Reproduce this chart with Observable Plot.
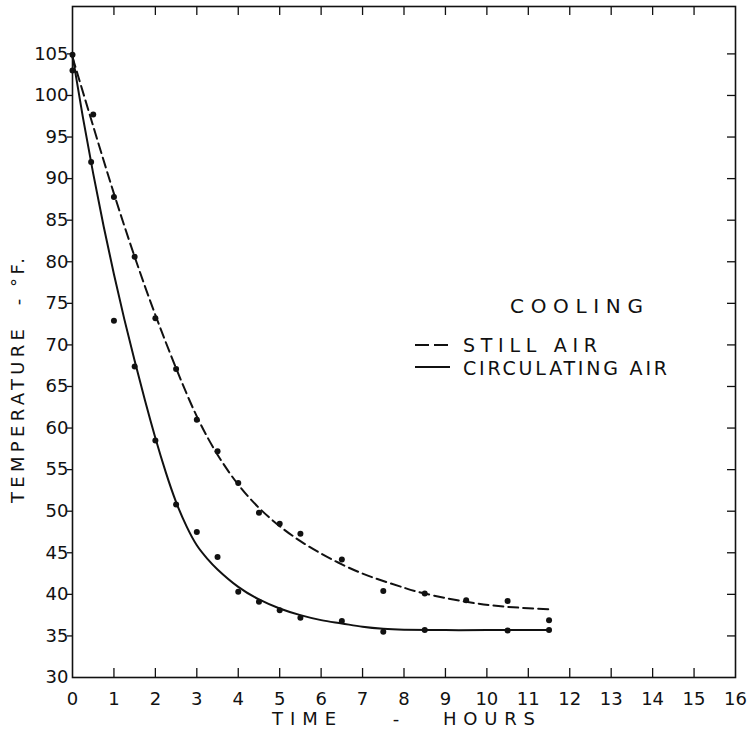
<!DOCTYPE html>
<html><head><meta charset="utf-8">
<script src="https://cdn.jsdelivr.net/npm/d3@7"></script>
<script src="https://cdn.jsdelivr.net/npm/@observablehq/plot@0.6"></script>
<style>body{margin:0;background:#fff} svg{display:block}</style>
</head><body><div id="chart"></div>
<script>
// Observed points
const stillHours = [0, 0.5, 1, 1.5, 2, 2.5, 3, 3.5, 4, 4.5, 5, 5.5, 6.5, 7.5, 8.5, 9.5, 10.5, 11.5];
const stillTemps = [103.0, 97.7, 87.8, 80.6, 73.2, 67.1, 61.0, 57.2, 53.4, 49.8, 48.5, 47.3, 44.2, 40.4, 40.1, 39.3, 39.2, 36.9];
const circHours = [0, 0.45, 1, 1.5, 2, 2.5, 3, 3.5, 4, 4.5, 5, 5.5, 6.5, 7.5, 8.5, 10.5, 11.5];
const circTemps = [104.9, 92.0, 72.9, 67.4, 58.5, 50.8, 47.5, 44.5, 40.3, 39.1, 38.1, 37.2, 36.8, 35.5, 35.7, 35.65, 35.7];
// Hand-drawn fitted curves
const stillCurveHours = [0, 0.5, 1, 1.5, 2, 2.5, 3, 3.5, 4, 4.5, 5, 5.5, 6, 6.5, 7, 7.5, 8, 8.5, 9.5, 10.5, 11.5];
const stillCurveTemps = [104.6, 96.3, 88.2, 80.6, 73.6, 67.2, 61.4, 56.8, 53.2, 50.4, 48.2, 46.4, 44.9, 43.6, 42.5, 41.6, 40.8, 40.1, 39.1, 38.5, 38.2];
const circCurveHours = [0, 0.25, 0.5, 0.75, 1, 1.25, 1.5, 1.75, 2, 2.25, 2.5, 2.75, 3, 3.25, 3.5, 4, 4.5, 5, 5.5, 6, 6.5, 7, 7.5, 8, 9, 10, 11.5];
const circCurveTemps = [104.8, 97.4, 90.6, 84.3, 78.5, 73.1, 68.1, 63.3, 58.8, 54.7, 51.1, 48.2, 45.9, 44.3, 43.0, 40.9, 39.4, 38.3, 37.5, 36.9, 36.5, 36.1, 35.85, 35.75, 35.7, 35.7, 35.7];
// Ticks
const xTickLabels = d3.range(0, 17);
const xInnerTicks = d3.range(1, 16);
const yTickLabels = d3.range(30, 110, 5);
const yInnerTicks = d3.range(35, 110, 5);

const stillPts = stillHours.map((h, i) => ({h, t: stillTemps[i]}));
const circPts = circHours.map((h, i) => ({h, t: circTemps[i]}));
const stillCurve = stillCurveHours.map((h, i) => ({h, t: stillCurveTemps[i]}));
const circCurve = circCurveHours.map((h, i) => ({h, t: circCurveTemps[i]}));

const W = 749, H = 731, mL = 72, mR = 14, mT = 6, mB = 54;
const iw = W - mL - mR, ih = H - mT - mB;
const ink = "#111";

const plot = Plot.plot({
  width: W, height: H,
  marginLeft: mL, marginRight: mR, marginTop: mT, marginBottom: mB,
  x: {domain: [0, 16]},
  y: {domain: [30, 110.7]},
  style: {fontFamily: "DejaVu Sans, sans-serif", fontSize: "18px", color: ink, background: "#fff"},
  marks: [
    Plot.axisX({ticks: xTickLabels, tickSize: 0, tickPadding: 15, label: null, fontSize: 18}),
    Plot.axisY({ticks: yTickLabels, tickSize: 0, tickPadding: 4, label: null, fontSize: 18}),
    Plot.tickX(xInnerTicks, {x: d => d, insetTop: ih - 9, stroke: ink, strokeWidth: 1.3}),
    Plot.tickX(xInnerTicks, {x: d => d, insetBottom: ih - 9, stroke: ink, strokeWidth: 1.3}),
    Plot.tickY(yInnerTicks, {y: d => d, insetRight: iw - 6, dx: -5, stroke: ink, strokeWidth: 1.3}),
    Plot.tickY(yInnerTicks, {y: d => d, insetLeft: iw - 8, stroke: ink, strokeWidth: 1.3}),
    Plot.frame({stroke: ink, strokeWidth: 1.6}),
    Plot.line(stillCurve, {x: "h", y: "t", curve: "natural", stroke: ink, strokeWidth: 2, strokeDasharray: "10,5"}),
    Plot.line(circCurve, {x: "h", y: "t", curve: "natural", stroke: ink, strokeWidth: 2}),
    Plot.dot(stillPts, {x: "h", y: "t", r: 3, fill: ink, stroke: "none"}),
    Plot.dot(circPts, {x: "h", y: "t", r: 3, fill: ink, stroke: "none"})
  ]
});

const svg = d3.select(plot);
const g = svg.append("g").attr("font-family", "DejaVu Sans, sans-serif").attr("fill", ink).attr("text-anchor", "start");
function txt(x, y, s, size, len, anchor) {
  const t = g.append("text").attr("x", x).attr("y", y).attr("font-size", size).attr("text-anchor", anchor || "start").text(s);
  if (len) t.attr("textLength", len).attr("lengthAdjust", "spacing");
  return t;
}
// x-axis title
txt(272, 725, "TIME", 18, 64);
txt(396, 725, "-", 18, null, "middle");
txt(443, 725, "HOURS", 18, 92);
// y-axis title
const yt = g.append("g").attr("transform", "translate(24,0)");
yt.append("text").attr("transform", "translate(0,503) rotate(-90)").attr("font-size", 18).attr("text-anchor", "start")
  .attr("textLength", 174).attr("lengthAdjust", "spacing").text("TEMPERATURE");
yt.append("text").attr("transform", "translate(0,302) rotate(-90)").attr("font-size", 18)
  .attr("text-anchor", "middle").text("-");
yt.append("text").attr("transform", "translate(0,287) rotate(-90)").attr("font-size", 18).attr("text-anchor", "start")
  .attr("textLength", 29).attr("lengthAdjust", "spacing").text("°F.");
// legend
txt(510, 313, "COOLING", 20, 133);
txt(463, 352, "STILL AIR", 19, 134);
txt(463, 375, "CIRCULATING AIR", 19, 204);
g.append("line").attr("x1", 415).attr("x2", 449).attr("y1", 345).attr("y2", 345)
  .attr("stroke", ink).attr("stroke-width", 2).attr("stroke-dasharray", "14,5");
g.append("line").attr("x1", 415).attr("x2", 450).attr("y1", 367).attr("y2", 367)
  .attr("stroke", ink).attr("stroke-width", 2);

document.getElementById("chart").appendChild(plot);
</script>
</body></html>
